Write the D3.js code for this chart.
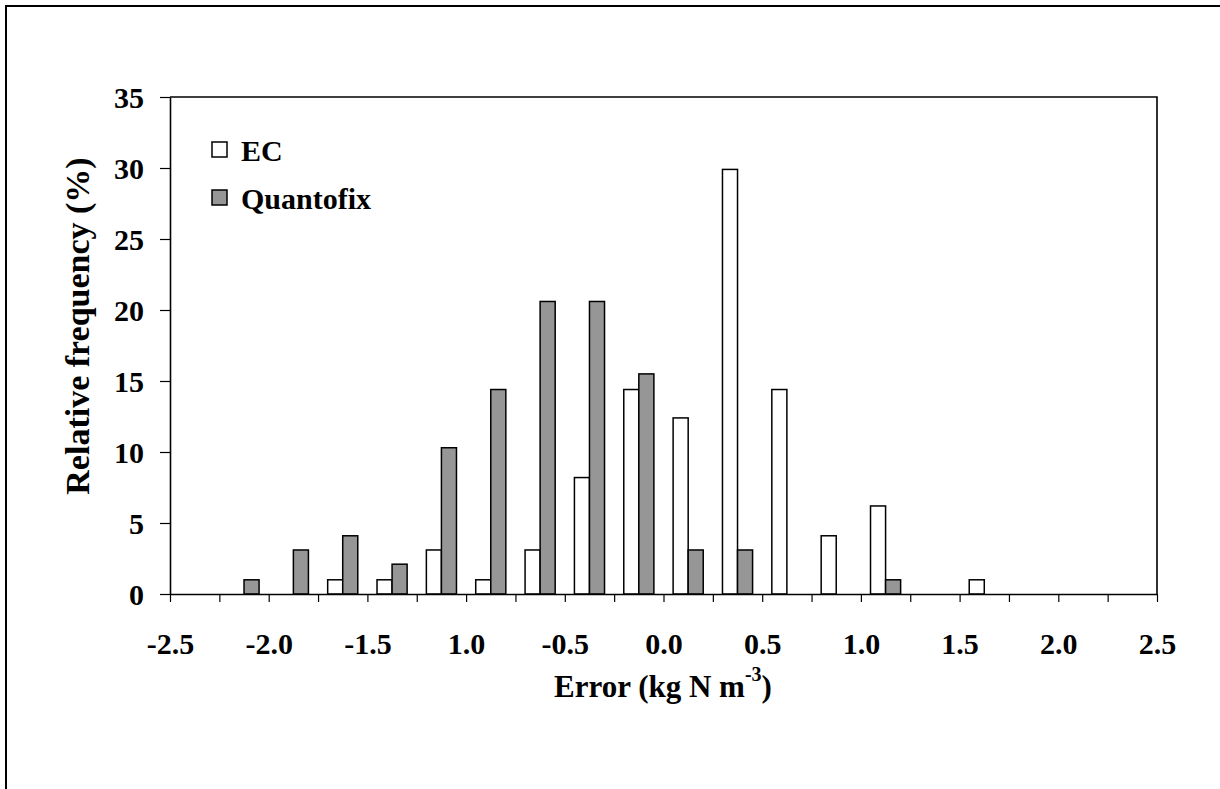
<!DOCTYPE html>
<html>
<head>
<meta charset="utf-8">
<script src="https://cdn.jsdelivr.net/npm/d3@7"></script>
<style>
  html, body { margin: 0; padding: 0; background: #fff; }
  svg { display: block; }
  text { font-family: "Liberation Serif", "Times New Roman", serif; font-weight: bold; fill: #000; }
</style>
</head>
<body>
<svg id="chart" width="1220" height="789"></svg>
<script>
// ---- Data ----
const binCenters = [-2.375, -2.125, -1.875, -1.625, -1.375, -1.125, -0.875, -0.625, -0.375, -0.125,
                     0.125,  0.375,  0.625,  0.875,  1.125,  1.375,  1.625,  1.875,  2.125,  2.375];
const ecValues        = [0, 0, 0, 1.0, 1.0, 3.1, 1.0, 3.1, 8.2, 14.4, 12.4, 29.9, 14.4, 4.1, 6.2, 0, 1.0, 0, 0, 0];
const quantofixValues = [0, 1.0, 3.1, 4.1, 2.1, 10.3, 14.4, 20.6, 20.6, 15.5, 3.1, 3.1, 0, 0, 1.0, 0, 0, 0, 0, 0];
const seriesNames = ["EC", "Quantofix"];
const xTickValues = [-2.5, -2.25, -2.0, -1.75, -1.5, -1.25, -1.0, -0.75, -0.5, -0.25, 0,
                      0.25, 0.5, 0.75, 1.0, 1.25, 1.5, 1.75, 2.0, 2.25, 2.5];
const xTickLabels = ["-2.5", "-2.0", "-1.5", "1.0", "-0.5", "0.0", "0.5", "1.0", "1.5", "2.0", "2.5"];
const yTickValues = [0, 5, 10, 15, 20, 25, 30, 35];

(function () {
  const svg = d3.select("#chart");
  const pLeft = 170, pRight = 1157, pTop = 97, pBottom = 594;
  const colors = { "EC": "#ffffff", "Quantofix": "#969696" };

  // outer frame
  svg.append("rect").attr("x", 6).attr("y", 6).attr("width", 1300).attr("height", 900)
    .attr("fill", "none").attr("stroke", "#000").attr("stroke-width", 2);

  const xLin = d3.scaleLinear().domain([-2.5, 2.5]).range([pLeft, pRight]);
  const x0 = d3.scaleBand().domain(binCenters).range([pLeft, pRight]).paddingInner(0.39).paddingOuter(0.195);
  const x1 = d3.scaleBand().domain(seriesNames).range([0, x0.bandwidth()]);
  const y = d3.scaleLinear().domain([0, 35]).range([pBottom, pTop]);

  // plot frame (top and right)
  svg.append("path").attr("d", `M${pLeft},${pTop}H${pRight}V${pBottom}`)
    .attr("fill", "none").attr("stroke", "#000").attr("stroke-width", 1.6);

  // bars
  const g = svg.append("g");
  binCenters.forEach((c, i) => {
    [ecValues[i], quantofixValues[i]].forEach((v, j) => {
      if (v <= 0) return;
      const s = seriesNames[j];
      g.append("rect")
        .attr("x", x0(c) + x1(s))
        .attr("y", y(v))
        .attr("width", x1.bandwidth())
        .attr("height", y(0) - y(v))
        .attr("fill", colors[s])
        .attr("stroke", "#000")
        .attr("stroke-width", 1.5);
    });
  });

  // x axis
  const xAxis = d3.axisBottom(xLin).tickValues(xTickValues).tickSize(8).tickSizeOuter(0)
    .tickFormat((d, i) => (i % 2 === 0 ? xTickLabels[i / 2] : ""));
  const gx = svg.append("g").attr("transform", `translate(0,${pBottom})`).call(xAxis);
  gx.select(".domain").attr("stroke", "#000").attr("stroke-width", 1.6);
  gx.selectAll(".tick line").attr("stroke", "#000").attr("stroke-width", 1.2);
  gx.selectAll(".tick text").attr("y", 60).attr("dy", 0)
    .style("font-family", '"Liberation Serif", serif').style("font-weight", "bold").style("font-size", "30px");

  // y axis
  const yAxis = d3.axisLeft(y).tickValues(yTickValues).tickSize(10).tickSizeOuter(0).tickFormat(d3.format("d"));
  const gy = svg.append("g").attr("transform", `translate(${pLeft},0)`).call(yAxis);
  gy.select(".domain").attr("stroke", "#000").attr("stroke-width", 1.6);
  gy.selectAll(".tick line").attr("stroke", "#000").attr("stroke-width", 1.2);
  gy.selectAll(".tick text").attr("x", -26).attr("dy", "0.34em")
    .style("font-family", '"Liberation Serif", serif').style("font-weight", "bold").style("font-size", "30px");

  // axis titles
  svg.append("text").attr("x", 663).attr("y", 697).attr("text-anchor", "middle")
    .style("font-size", "31px")
    .call(t => {
      t.append("tspan").text("Error (kg N m");
      t.append("tspan").attr("dy", -16).style("font-size", "20px").text("-3");
      t.append("tspan").attr("dy", 16).text(")");
    });

  svg.append("text").attr("transform", "translate(89,326) rotate(-90)").attr("text-anchor", "middle")
    .style("font-size", "34px").text("Relative frequency (%)");

  // legend
  const legendItems = [{ name: "EC", y: 142 }, { name: "Quantofix", y: 190 }];
  legendItems.forEach(it => {
    svg.append("rect").attr("x", 212).attr("y", it.y).attr("width", 15).attr("height", 15)
      .attr("fill", colors[it.name]).attr("stroke", "#000").attr("stroke-width", 1.5);
    svg.append("text").attr("x", 241).attr("y", it.y + 19).style("font-size", "30px").text(it.name);
  });
})();
</script>
</body>
</html>
